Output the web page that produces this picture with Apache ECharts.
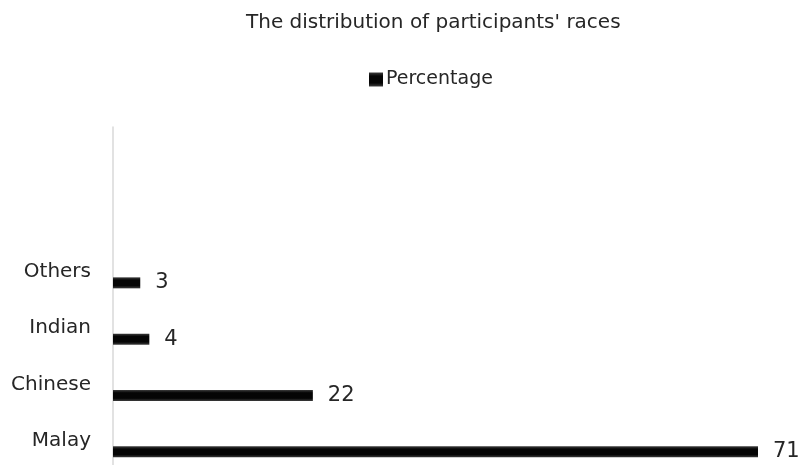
<!DOCTYPE html>
<html>
<head>
<meta charset="utf-8">
<script src="https://cdn.jsdelivr.net/npm/echarts@6/dist/echarts.min.js"></script>
<style>
  html, body { margin: 0; padding: 0; background: #fff; }
  #chart { width: 800px; height: 465px; }
</style>
</head>
<body>
<div id="chart"></div>
<script>
// Race breakdown of participants (percent)
const titleText = "The distribution of participants' races";
const seriesName = 'Percentage';
const categories = ['Malay', 'Chinese', 'Indian', 'Others', '', ''];
const percentages = [71, 22, 4, 3, '-', '-'];
const spacerValues = ['-', '-', '-', '-', '-', '-'];

const FONT = 'DejaVu Sans';
const TEXT = '#262626';

const barFill = new echarts.graphic.LinearGradient(0, 0, 0, 1, [
  { offset: 0, color: '#3c3c3c' },
  { offset: 0.25, color: '#050505' },
  { offset: 0.75, color: '#050505' },
  { offset: 1, color: '#3c3c3c' }
]);

const chart = echarts.init(document.getElementById('chart'), null, { renderer: 'canvas' });

chart.setOption({
  animation: false,
  backgroundColor: '#ffffff',
  title: {
    text: titleText,
    left: 241,
    top: 8,
    textStyle: { fontFamily: FONT, fontSize: 20, fontWeight: 'normal', color: TEXT }
  },
  legend: {
    data: [seriesName],
    left: 364,
    top: 65,
    itemWidth: 14,
    itemHeight: 14,
    itemGap: 4,
    icon: 'rect',
    textStyle: { fontFamily: FONT, fontSize: 19, color: TEXT, padding: [0, 0, 0, -2] }
  },
  grid: { left: 113, right: 42, top: 127, bottom: -2, containLabel: false },
  xAxis: {
    type: 'value',
    min: 0,
    max: 71,
    show: false
  },
  yAxis: {
    type: 'category',
    data: categories,
    axisTick: { show: false },
    axisLine: { show: true, lineStyle: { color: '#d9d9d9', width: 1.5 } },
    axisLabel: {
      margin: 22,
      formatter: (v) => (v ? '{c|' + v + '}' : ''),
      rich: {
        c: {
          fontFamily: FONT,
          fontSize: 20,
          color: TEXT,
          padding: [8, 0, 0, 0]
        }
      }
    },
    splitLine: { show: false }
  },
  series: [
    {
      name: 'spacer',
      type: 'bar',
      data: spacerValues,
      barWidth: 11,
      barGap: '173%',
      itemStyle: { color: 'transparent' },
      silent: true
    },
    {
      name: seriesName,
      type: 'bar',
      data: percentages,
      barWidth: 11,
      barGap: '173%',
      itemStyle: { color: barFill },
      label: {
        show: true,
        position: 'right',
        distance: 15,
        fontFamily: FONT,
        fontSize: 21,
        color: TEXT
      }
    }
  ]
});
</script>
</body>
</html>
